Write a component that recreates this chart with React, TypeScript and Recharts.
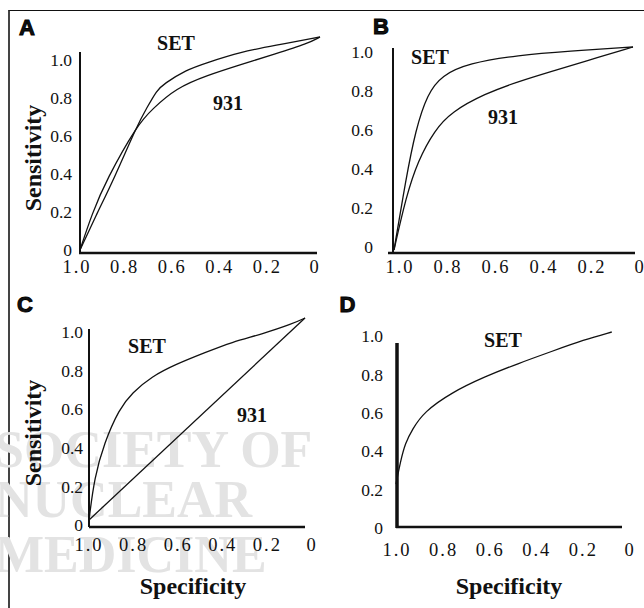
import React from 'react'
import { LineChart, Line, XAxis, YAxis, ReferenceLine } from 'recharts'

const ticks = [0, 0.2, 0.4, 0.6, 0.8, 1]
const tickLabels = ['0', '0.2', '0.4', '0.6', '0.8', '1.0']

// panel A
const aSetSpec = [1, 0.93, 0.86, 0.76, 0.72, 0.68, 0.65, 0.56, 0.47, 0.33, 0.19, 0]
const aSetSens = [0, 0.17, 0.33, 0.59, 0.67, 0.75, 0.78, 0.845, 0.88, 0.93, 0.96, 1]
const a931Spec = [1, 0.95, 0.89, 0.76, 0.7, 0.6, 0.47, 0.33, 0.19, 0.05, 0]
const a931Sens = [0, 0.17, 0.33, 0.59, 0.66, 0.76, 0.82, 0.87, 0.92, 0.97, 1]

// panel B
const bSetSpec = [1, 0.95, 0.91, 0.86, 0.8, 0.69, 0.48, 0.27, 0]
const bSetSens = [0, 0.35, 0.59, 0.77, 0.86, 0.92, 0.96, 0.98, 1]
const b931Spec = [1, 0.95, 0.9, 0.83, 0.76, 0.62, 0.48, 0.34, 0.2, 0]
const b931Sens = [0, 0.26, 0.44, 0.59, 0.68, 0.77, 0.83, 0.88, 0.93, 1]

// panel C
const cSetSpec = [1, 0.975, 0.93, 0.86, 0.8, 0.71, 0.6, 0.46, 0.34, 0.2, 0.06, 0]
const cSetSens = [0, 0.21, 0.38, 0.55, 0.63, 0.71, 0.77, 0.83, 0.88, 0.92, 0.97, 1]
const c931Spec = [1, 0]
const c931Sens = [0, 1]

// panel D
const dSetSpec = [1, 0.98, 0.96, 0.93, 0.88, 0.76, 0.62, 0.47, 0.33, 0.19, 0.07]
const dSetSens = [0.22, 0.34, 0.43, 0.5, 0.59, 0.69, 0.77, 0.84, 0.9, 0.96, 1]

const W = 644
const H = 608
const YW = 60
const XH = 30
const serif = '"Liberation Serif", "Times New Roman", serif'
const ink = '#111'

const zip = (spec: number[], sens: number[]) => spec.map((x, i) => ({ x, y: sens[i] }))
const fmt = (v: number) => tickLabels[ticks.indexOf(v)] ?? String(v)

type Layout = {
  data: number[] // px of spec 1, spec 0, sens 0, sens 1
  tick: number[] // px of label 1.0, label 0 (x); label 0, label 1.0 (y)
  yLabelRight: number
  xLabelY: number
  yLine: number[] // x, bottom, top, width
  xLine: number[] // y, left, right, width
}

function Panel({ curves, lay }: { curves: { x: number; y: number }[][]; lay: Layout }) {
  const [dx0, dx1, dyb, dyt] = lay.data
  const [tx0, tx1, tyb, tyt] = lay.tick
  const [ax, ayb, ayt, aw] = lay.yLine
  const [by, bx0, bx1, bw] = lay.xLine
  const l = Math.min(dx0, tx0, bx0, ax)
  const r = Math.max(dx1, tx1, bx1)
  const t = Math.min(dyt, tyt, ayt)
  const b = Math.max(dyb, tyb, ayb, by)
  const spec = (px: number) => 1 - (px - dx0) / (dx1 - dx0)
  const sens = (py: number) => (dyb - py) / (dyb - dyt)
  const tickStyle = { fill: ink, fontSize: 17.5, fontFamily: serif }

  return (
    <div style={{ position: 'absolute', left: 0, top: 0 }}>
      <LineChart width={W} height={H} margin={{ top: t, right: W - r, left: l - YW, bottom: H - b - XH }}>
        <XAxis xAxisId="d" orientation="top" type="number" dataKey="x" domain={[0, 1]} reversed hide
          padding={{ left: dx0 - l, right: r - dx1 }} />
        <YAxis yAxisId="d" orientation="right" type="number" domain={[0, 1]} hide
          padding={{ top: dyt - t, bottom: b - dyb }} />
        <XAxis xAxisId="t" type="number" dataKey="x" domain={[0, 1]} reversed ticks={ticks}
          tickFormatter={fmt} axisLine={false} tickLine={false} tickSize={0} height={XH}
          tickMargin={lay.xLabelY - 6.9 - b} interval={0}
          padding={{ left: tx0 - l, right: r - tx1 }}
          tick={{ ...tickStyle, fontSize: 18.5, letterSpacing: 2 }} />
        <YAxis yAxisId="t" type="number" domain={[0, 1]} ticks={ticks} tickFormatter={fmt}
          axisLine={false} tickLine={false} tickSize={0} width={YW} interval={0}
          tickMargin={l - lay.yLabelRight}
          padding={{ top: tyt - t, bottom: b - tyb }} tick={tickStyle} />
        <ReferenceLine xAxisId="d" yAxisId="d" ifOverflow="visible" stroke={ink} strokeWidth={aw}
          segment={[{ x: spec(ax), y: sens(ayb) }, { x: spec(ax), y: sens(ayt) }]} />
        <ReferenceLine xAxisId="d" yAxisId="d" ifOverflow="visible" stroke={ink} strokeWidth={bw}
          segment={[{ x: spec(bx0), y: sens(by) }, { x: spec(bx1), y: sens(by) }]} />
        {/* invisible series so the label axes get ticks */}
        <Line xAxisId="t" yAxisId="t" data={curves[0]} dataKey="y" stroke="none" dot={false}
          isAnimationActive={false} />
        {curves.map((c, i) => (
          <Line key={i} xAxisId="d" yAxisId="d" data={c} dataKey="y" type="basis" dot={false}
            stroke={ink} strokeWidth={1.3} isAnimationActive={false} />
        ))}
      </LineChart>
    </div>
  )
}

function T({ x, y, size, children, bold = true, family = serif, rotate = 0, color = ink, start = false, stroke }:
  { x: number; y: number; size: number; children: React.ReactNode; bold?: boolean; family?: string; rotate?: number; color?: string; start?: boolean; stroke?: boolean }) {
  return (
    <div style={{
      position: 'absolute', left: x, top: y, fontSize: size, fontFamily: family, color,
      fontWeight: bold ? 700 : 400, lineHeight: 1, whiteSpace: 'nowrap',
      transform: `translate(${start ? 0 : -50}%, -50%) rotate(${rotate}deg)`,
      WebkitTextStroke: stroke ? '1px #000' : undefined,
    }}>{children}</div>
  )
}

const sans = '"Liberation Sans", Arial, sans-serif'

export default function App() {
  return (
    <div style={{ position: 'absolute', left: 0, top: 0, width: W, height: H, background: '#fff', overflow: 'hidden' }}>
      <div style={{ position: 'absolute', left: 8, top: 10, width: 700, height: 700, borderTop: '1.5px solid #111', borderLeft: '2px solid #444' }} />

      <T x={-5} y={450} size={52} color="#e3e3e3" start>SOCIETY OF</T>
      <T x={-5} y={500} size={52} color="#e3e3e3" start>NUCLEAR</T>
      <T x={-5} y={555} size={52} color="#e3e3e3" start>MEDICINE</T>

      <Panel curves={[zip(aSetSpec, aSetSens), zip(a931Spec, a931Sens)]} lay={{
        data: [80, 320, 250, 37], tick: [77, 315, 250, 60], yLabelRight: 72, xLabelY: 267,
        yLine: [80, 253, 52, 2], xLine: [253, 79, 317, 2.5],
      }} />
      <Panel curves={[zip(bSetSpec, bSetSens), zip(b931Spec, b931Sens)]} lay={{
        data: [394, 633, 250, 47], tick: [400, 640, 247, 52], yLabelRight: 373, xLabelY: 267,
        yLine: [393, 253, 48, 2], xLine: [253, 388, 635, 2.5],
      }} />
      <Panel curves={[zip(cSetSpec, cSetSens), zip(c931Spec, c931Sens)]} lay={{
        data: [89, 305, 520, 318], tick: [89, 312, 525, 332], yLabelRight: 83, xLabelY: 545,
        yLine: [89, 527, 329, 2], xLine: [527, 89, 305, 2.5],
      }} />
      <Panel curves={[zip(dSetSpec, dSetSens)]} lay={{
        data: [396, 628, 527, 332], tick: [397, 630, 528, 336], yLabelRight: 383, xLabelY: 550,
        yLine: [397, 528, 343, 3.5], xLine: [527, 396, 622, 2.5],
      }} />

      <T x={27} y={27.5} size={22} family={sans} stroke>A</T>
      <T x={381} y={26.5} size={22} family={sans} stroke>B</T>
      <T x={25} y={304.5} size={22} family={sans} stroke>C</T>
      <T x={347.5} y={304.5} size={22} family={sans} stroke>D</T>

      <T x={33} y={158} size={24} rotate={-90}>Sensitivity</T>
      <T x={33} y={433} size={24} rotate={-90}>Sensitivity</T>
      <T x={193} y={586} size={24}>Specificity</T>
      <T x={509} y={586} size={24}>Specificity</T>

      <T x={176} y={43} size={20}>SET</T>
      <T x={228} y={103} size={20}>931</T>
      <T x={430} y={57} size={20}>SET</T>
      <T x={503} y={117} size={20}>931</T>
      <T x={147} y={346} size={20}>SET</T>
      <T x={252} y={415} size={20}>931</T>
      <T x={503} y={340} size={20}>SET</T>
    </div>
  )
}
